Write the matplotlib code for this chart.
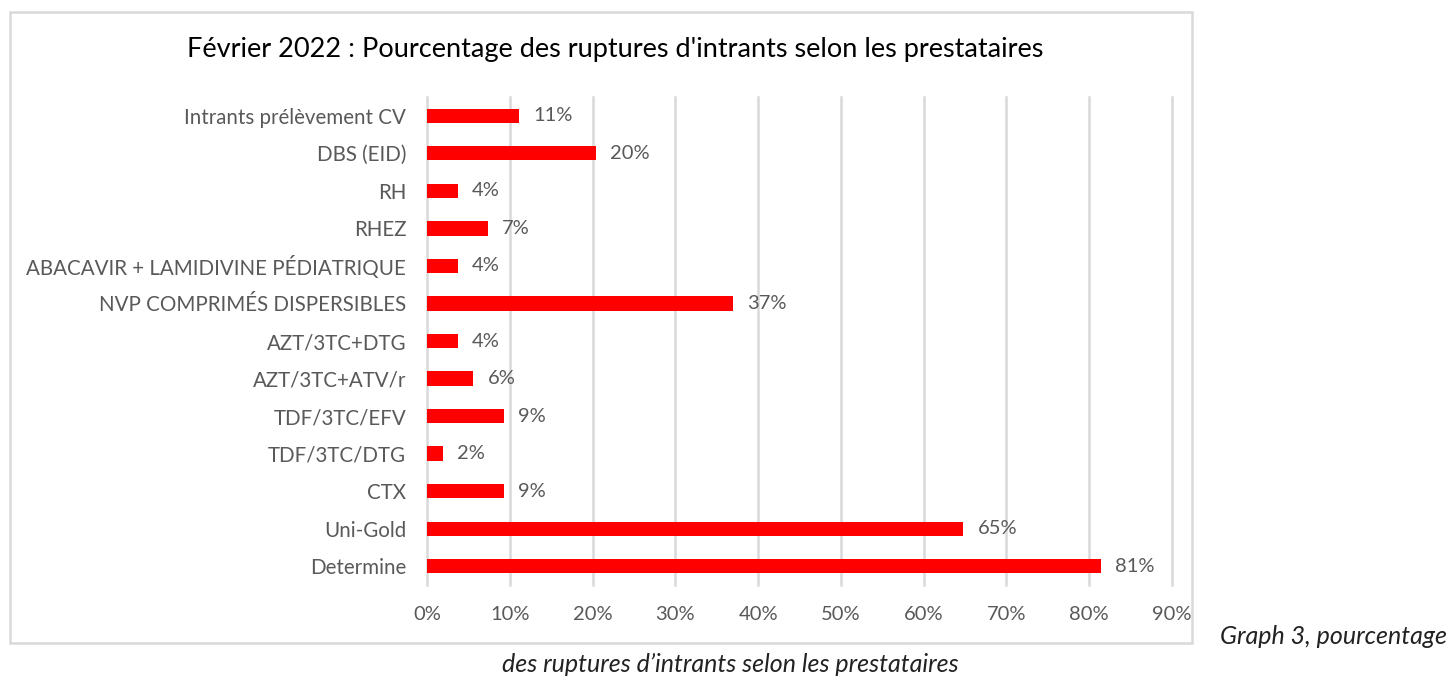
import matplotlib
matplotlib.use("Agg")
import matplotlib.pyplot as plt
from matplotlib.patches import Rectangle
from matplotlib.ticker import PercentFormatter

plt.rcParams["font.family"] = ["Lato", "DejaVu Sans"]

# Data (top to bottom as in the chart)
categories = [
    "Intrants prélèvement CV",
    "DBS (EID)",
    "RH",
    "RHEZ",
    "ABACAVIR + LAMIDIVINE PÉDIATRIQUE",
    "NVP COMPRIMÉS DISPERSIBLES",
    "AZT/3TC+DTG",
    "AZT/3TC+ATV/r",
    "TDF/3TC/EFV",
    "TDF/3TC/DTG",
    "CTX",
    "Uni-Gold",
    "Determine",
]
values = [11.1, 20.4, 3.7, 7.4, 3.7, 37.0, 3.7, 5.6, 9.3, 1.9, 9.3, 64.8, 81.4]
x_ticks = [0, 10, 20, 30, 40, 50, 60, 70, 80, 90]

W, H = 1452, 677
fig = plt.figure(figsize=(W / 100, H / 100), dpi=100)

# chart frame
fig.patches.append(Rectangle((10 / W, 1 - 643 / H), 1182 / W, 631 / H,
                             transform=fig.transFigure, fill=False,
                             edgecolor="#d9d9d9", linewidth=1.8))

ax = fig.add_axes([427 / W, 1 - 585 / H, 745 / W, 488 / H])
ypos = list(range(len(categories)))
ax.barh(ypos, values, height=0.38, color="#ff0000")
for y, v in zip(ypos, values):
    ax.text(v + 1.7, y, f"{v:.0f}%", va="center", ha="left",
            fontsize=14.5, color="#595959")

ax.set_yticks(ypos)
ax.set_yticklabels(categories, fontsize=14.8, color="#595959")
ax.set_ylim(-0.5, len(categories) - 0.5)
ax.invert_yaxis()

ax.set_xlim(0, 90)
ax.set_xticks(x_ticks)
ax.xaxis.set_major_formatter(PercentFormatter(decimals=0))
ax.tick_params(axis="x", labelsize=14.5, labelcolor="#595959", length=0, pad=15)
ax.tick_params(axis="y", length=0, pad=15)
ax.grid(axis="x", color="#d9d9d9", linewidth=1.8)
for gl in ax.get_xgridlines():
    gl.set_clip_on(False)
ax.set_axisbelow(True)
for s in ax.spines.values():
    s.set_visible(False)

fig.text(615 / W, 1 - 50 / H,
         "Février 2022 : Pourcentage des ruptures d'intrants selon les prestataires",
         ha="center", va="center", fontsize=19.5, color="#000000")

# caption
fig.text(1220 / W, 1 - 637 / H, "Graph 3, pourcentage", ha="left", va="center",
         fontsize=18, style="italic", color="#222222")
fig.text(730 / W, 1 - 664 / H, "des ruptures d\u2019intrants selon les prestataires",
         ha="center", va="center", fontsize=18, style="italic", color="#222222")

fig.savefig("out.png", dpi=100)
